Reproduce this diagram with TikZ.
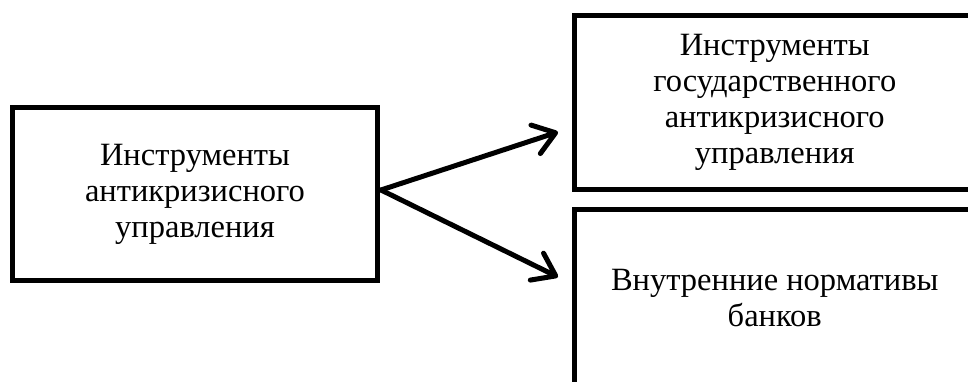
\documentclass[tikz,border=0pt]{standalone}
\usepackage{fontspec}
\setmainfont{Liberation Serif}
\usetikzlibrary{arrows.meta}
\begin{document}
\begin{tikzpicture}[x=1pt,y=-1pt,
  box/.style={draw=black,line width=5.5pt,fill=white,align=center,
    font=\fontsize{32.5}{36}\selectfont,inner sep=0pt},
  link/.style={line width=5pt,line cap=round,
    -{Straight Barb[length=21pt,width=30pt,line cap=round,line join=round]}}]
\useasboundingbox (0,0) rectangle (968,381);
\clip (0,0) rectangle (968,381);
% source box
\node[box,minimum width=365pt,minimum height=173pt] (L) at (195,194)
  {Инструменты\\антикризисного\\управления};
% target boxes, running past the right and bottom borders
\node[box,minimum width=400.5pt,minimum height=174pt] (T) at (774.75,102.5)
  {Инструменты\\государственного\\антикризисного\\управления};
\node[box,minimum width=400.5pt,minimum height=178pt] (B) at (774.75,298.5)
  {Внутренние нормативы\\банков};
% arrow tips stop short of the target boxes
\coordinate (tT) at (558,132);
\coordinate (tB) at (558,277);
\coordinate (s) at (381,190);
\draw[link] (s) -- (tT);
\draw[link] (s) -- (tB);
\end{tikzpicture}
\end{document}
